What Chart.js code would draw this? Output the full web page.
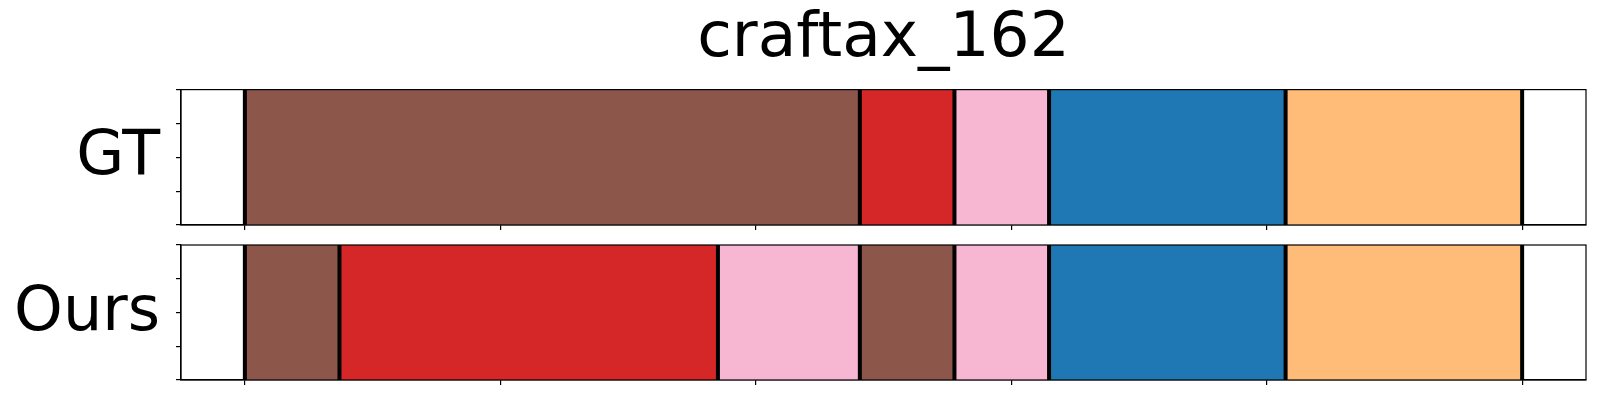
<!DOCTYPE html>
<html>
<head>
<meta charset="utf-8">
<script src="https://cdn.jsdelivr.net/npm/chart.js@4"></script>
<style>
  body { margin: 0; background: #fff; }
  .panel { position: absolute; left: 0; width: 1600px; }
</style>
</head>
<body>
<div class="panel" style="top:0;height:240px"><canvas id="gtChart"></canvas></div>
<div class="panel" style="top:230px;height:170px"><canvas id="oursChart"></canvas></div>
<script>
// segment boundaries (frames) and the action class of each segment
const gtBounds = [0, 13, 15, 17, 22, 27];
const gtClasses = ['brown', 'red', 'pink', 'blue', 'peach'];
const oursBounds = [0, 2, 10, 13, 15, 17, 22, 27];
const oursClasses = ['brown', 'red', 'pink', 'brown', 'pink', 'blue', 'peach'];
const xTicks = [0, 5.4, 10.8, 16.2, 21.6, 27];
const yTicks = [0, 0.25, 0.5, 0.75, 1];

const classColors = {
    brown: '#8c564b',
    red: '#d62728',
    pink: '#f7b6d2',
    blue: '#1f77b4',
    peach: '#ffbb78',
};

const FONT = 'DejaVu Sans';

// draws the row label, the box and the black boundary lines
const segPlugin = {
    id: 'segPlugin',
    afterDatasetsDraw(chart, args, opts) {
        const { ctx, chartArea: a, scales } = chart;
        ctx.save();
        ctx.strokeStyle = '#000';
        ctx.lineWidth = 4;
        opts.bounds.forEach(b => {
            const x = scales.x.getPixelForValue(b);
            ctx.beginPath();
            ctx.moveTo(x, a.top);
            ctx.lineTo(x, a.bottom);
            ctx.stroke();
        });
        ctx.lineWidth = 1.2;
        ctx.strokeRect(a.left, a.top, a.right - a.left, a.bottom - a.top);
        ctx.fillStyle = '#000';
        ctx.font = '62px "' + FONT + '"';
        ctx.textAlign = 'right';
        ctx.textBaseline = 'alphabetic';
        ctx.fillText(opts.label, a.left - 21, (a.top + a.bottom) / 2 + 17);
        ctx.restore();
    },
};

// one stacked dataset per segment
function makeDatasets(bounds, classes) {
    return classes.map((c, i) => ({
        data: [bounds[i + 1] - bounds[i]],
        backgroundColor: classColors[c],
        borderWidth: 0,
        barPercentage: 1,
        categoryPercentage: 1,
        xAxisID: 'x',
        yAxisID: 'y',
    }));
}

const tickGrid = { drawOnChartArea: false, drawTicks: true, tickLength: 5, color: '#000', lineWidth: 1.2, offset: false };

function makeChart(id, label, bounds, classes, padTop, xHeight, title) {
    const ctx = document.getElementById(id).getContext('2d');
    return new Chart(ctx, {
        type: 'bar',
        data: { labels: [label], datasets: makeDatasets(bounds, classes) },
        plugins: [segPlugin],
        options: {
            indexAxis: 'y',
            responsive: true,
            maintainAspectRatio: false,
            animation: false,
            layout: { padding: { top: padTop, right: 14, bottom: 0, left: 0 } },
            plugins: {
                legend: { display: false },
                tooltip: { enabled: false },
                title: {
                    display: !!title,
                    text: title,
                    fullSize: false,
                    color: '#000',
                    font: { family: FONT, size: 63, weight: 'normal' },
                    padding: { top: 2, bottom: 12 },
                },
                segPlugin: { bounds: bounds, label: label },
            },
            scales: {
                x: {
                    type: 'linear',
                    stacked: true,
                    min: -1.35,
                    max: 28.35,
                    afterBuildTicks: s => { s.ticks = xTicks.map(v => ({ value: v })); },
                    afterFit: s => { s.height = xHeight; },
                    ticks: { display: false },
                    grid: tickGrid,
                    border: { display: true, color: '#000', width: 1.2 },
                },
                y: {
                    type: 'category',
                    stacked: true,
                    display: false,
                },
                yt: {
                    type: 'linear',
                    axis: 'y',
                    position: 'left',
                    offset: false,
                    min: 0,
                    max: 1,
                    afterBuildTicks: s => { s.ticks = yTicks.map(v => ({ value: v })); },
                    afterFit: s => { s.width = 181; },
                    ticks: { display: false },
                    grid: tickGrid,
                    border: { display: true, color: '#000', width: 1.2 },
                },
            },
        },
    });
}

makeChart('gtChart', 'GT', gtBounds, gtClasses, 0, 15, 'craftax_162');
makeChart('oursChart', 'Ours', oursBounds, oursClasses, 15, 20, '');
</script>
</body>
</html>
